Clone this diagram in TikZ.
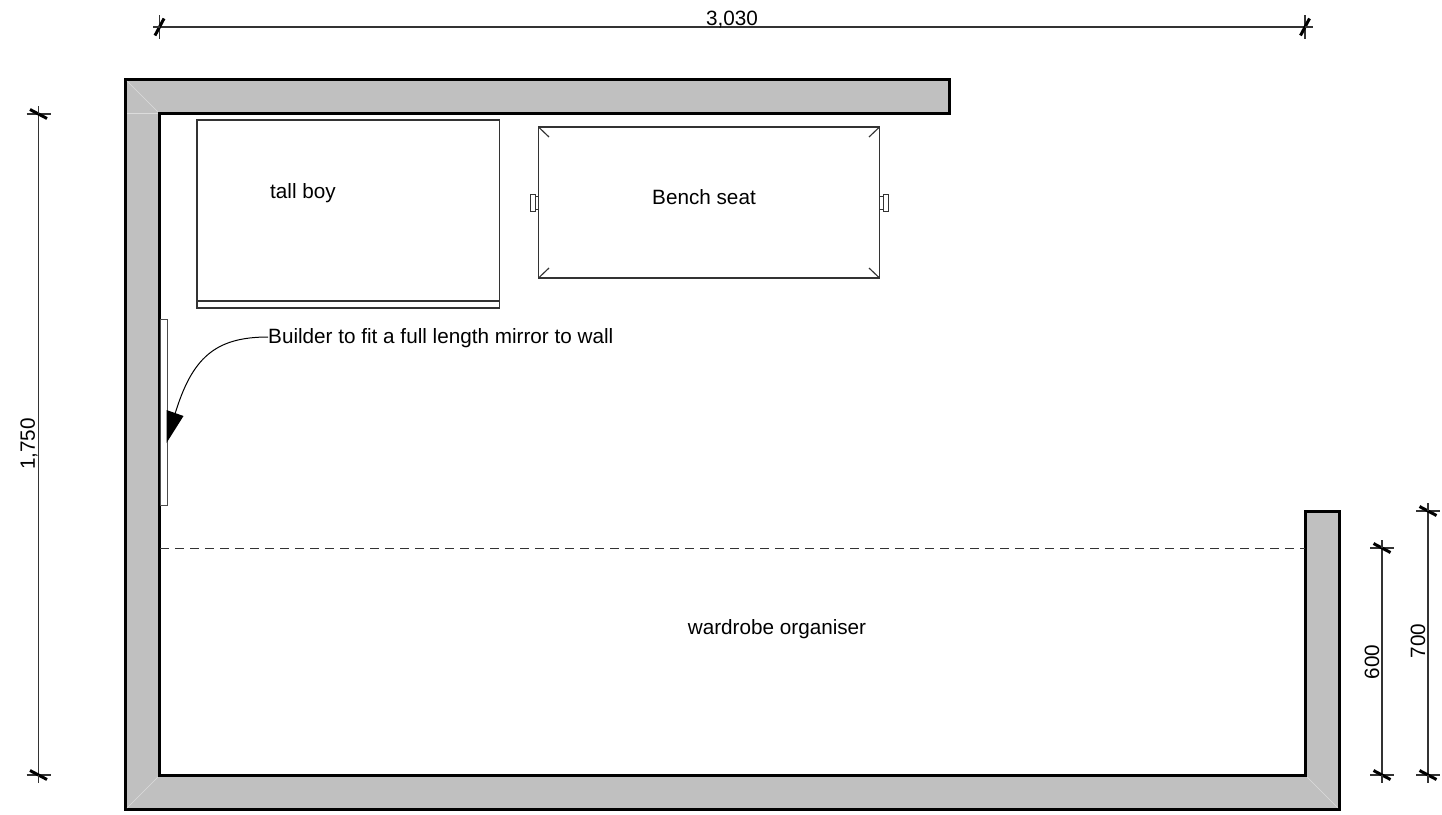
\documentclass[tikz,border=0pt]{standalone}
\usepackage{fontspec}
\setmainfont{Liberation Sans}
\definecolor{wallgrey}{HTML}{C0C0C0}
\definecolor{ink}{HTML}{333333}
\tikzset{
  wall/.style={draw=black,line width=3pt,fill=wallgrey,line join=miter},
  miterline/.style={draw=white!45!wallgrey,line width=0.5pt},
  furn/.style={draw=ink,line width=1.15pt},
  thinfurn/.style={draw=ink,line width=0.8pt},
  mirrorbox/.style={draw=black!70,line width=0.8pt},
  dimline/.style={draw=ink,line width=1.1pt},
  slash/.style={draw=black,line width=3pt},
  label/.style={font=\fontsize{20.7}{23}\selectfont,inner sep=0pt,text=black},
  leader/.style={draw=black,line width=1pt},
}
\newcommand{\htick}[1]{%
  \draw[dimline] ([xshift=-12pt]#1) -- ([xshift=12pt]#1);
  \draw[slash] ([xshift=-8.5pt,yshift=4.5pt]#1) -- ([xshift=8.5pt,yshift=-4.5pt]#1);}
\newcommand{\vtick}[1]{%
  \draw[dimline] ([yshift=12pt]#1) -- ([yshift=-12pt]#1);
  \draw[slash] ([xshift=-4.5pt,yshift=-8.5pt]#1) -- ([xshift=4.5pt,yshift=8.5pt]#1);}
\begin{document}
\begin{tikzpicture}[x=1pt,y=-1pt]
\useasboundingbox (0,0) rectangle (1442,814);
% walls
\path[wall] (125.5,79.5) -- (949.5,79.5) -- (949.5,113.5) -- (159.5,113.5) -- (159.5,775) -- (1305,775)
  -- (1305,511) -- (1339,511) -- (1339,809) -- (125.5,809) -- cycle;
\path[miterline] (127,81) -- (158,112);
\path[miterline] (127,113.5) -- (158,113.5);
\path[miterline] (127,808) -- (158,777);
\path[miterline] (1338,808) -- (1307,777);
% tall boy
\draw[furn] (197,120) rectangle (499.5,308);
\draw[furn] (197,301) -- (499.5,301);
\node[label] (tallboy) at (303,193) {tall boy};
% bench seat
\draw[furn] (538.5,127) rectangle (879.5,278);
\draw[furn] (538.5,127) -- (549,137);
\draw[furn] (879.5,127) -- (869,137);
\draw[furn] (538.5,278) -- (549,268);
\draw[furn] (879.5,278) -- (869,268);
\draw[thinfurn] (530,194) rectangle (535,211);
\draw[thinfurn] (535,196) rectangle (538.5,209);
\draw[thinfurn] (879.5,196) rectangle (883.5,209);
\draw[thinfurn] (883.5,194) rectangle (888,211);
\node[label] (bench) at (704,197) {Bench seat};
% mirror and leader
\draw[mirrorbox] (160,319) rectangle (167.5,505.5);
\node[label,anchor=west] (mirrornote) at (268,338) {Builder to fit a full length mirror to wall};
\coordinate (leaderstart) at (268,337);
\coordinate (tip) at (166.5,443);
\coordinate (neck) at (175,414);
\draw[leader] (leaderstart) .. controls (215,337) and (192,358) .. (neck);
\fill[black] (tip) -- (166.5,410) -- (183.5,416) -- cycle;
% organiser line
\coordinate (dashL) at (160,548.5);
\coordinate (dashR) at (1305,548.5);
\draw[dimline,line width=0.9pt,dash pattern=on 9pt off 6pt] (dashL) -- (dashR);
\node[label] (organiser) at (777,629) {wardrobe organiser};
% top dimension
\coordinate (t1) at (159.5,27);
\coordinate (t2) at (1305,27);
\draw[dimline] (t1) -- (t2);
\vtick{t1} \vtick{t2}
\draw[dimline] (t1) -- ++(-7,0);
\draw[dimline] (t2) -- ++(8,0);
\node[label] (d3030) at (732,19.5) {3,030};
% left dimension
\coordinate (l1) at (38.5,114);
\coordinate (l2) at (38.5,775);
\draw[dimline] (l1) -- (l2);
\htick{l1} \htick{l2}
\draw[dimline] (l2) -- ++(0,8);
\draw[dimline] (l1) -- ++(0,-8);
\node[label,rotate=90] (d1750) at (29,444) {1,750};
% 600
\coordinate (a1) at (1382,548);
\coordinate (a2) at (1382,775);
\draw[dimline] (a1) -- (a2);
\htick{a1} \htick{a2}
\draw[dimline] (a2) -- ++(0,8);
\draw[dimline] (a1) -- ++(0,-8);
\node[label,rotate=90] (d600) at (1372,662) {600};
% 700
\coordinate (b1) at (1428,511);
\coordinate (b2) at (1428,775);
\draw[dimline] (b1) -- (b2);
\htick{b1} \htick{b2}
\draw[dimline] (b2) -- ++(0,8);
\draw[dimline] (b1) -- ++(0,-8);
\node[label,rotate=90] (d700) at (1418,641) {700};
\end{tikzpicture}
\end{document}
